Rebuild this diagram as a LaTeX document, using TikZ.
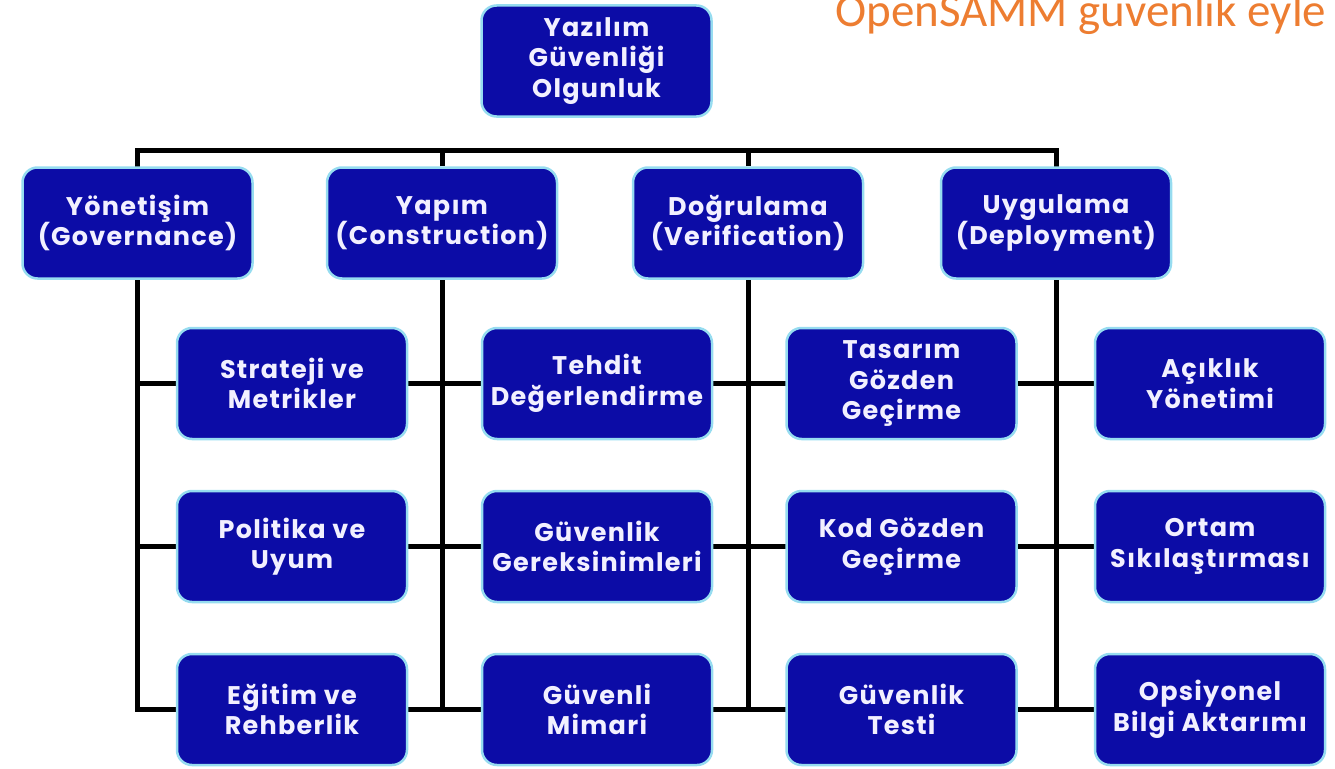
\documentclass[tikz,border=0pt]{standalone}
\usepackage{fontspec}
\setmainfont{Poppins}[LetterSpace=5]
\newfontfamily\titlefont{Carlito}
\usetikzlibrary{backgrounds}
\definecolor{boxblue}{RGB}{12,12,166}
\definecolor{glow}{RGB}{150,220,240}
\definecolor{txt}{RGB}{242,240,255}
\definecolor{titleorange}{RGB}{237,125,49}
\tikzset{
  box/.style={draw=glow, line width=2.5pt, fill=boxblue, rounded corners=15pt,
    text=txt, font=\bfseries\fontsize{25.5}{30.5}\selectfont, align=center,
    minimum width=230pt, minimum height=111pt, inner sep=0pt},
  conn/.style={draw=black, line width=5pt}
}
\begin{document}
\begin{tikzpicture}[x=1pt,y=-1pt]
\useasboundingbox (0,0) rectangle (1335,768);
\clip (0,0) rectangle (1335,768);
\node[box] (top) at (596.5,61) {Yazılım\\Güvenliği\\Olgunluk};
\node[box] (gov) at (137.5,223) {Yönetişim\\(Governance)};
\node[box] (yap) at (442,223) {Yapım\\(Construction)};
\node[box] (dog) at (748,223) {Doğrulama\\(Verification)};
\node[box] (uyg) at (1056,223) {Uygulama\\(Deployment)};
\node[box] (c11) at (292,383.5) {Strateji ve\\Metrikler};
\node[box] (c12) at (292,546.5) {Politika ve\\Uyum};
\node[box] (c13) at (292,709.5) {Eğitim ve\\Rehberlik};
\node[box] (c21) at (597,383.5) {Tehdit\\Değerlendirme};
\node[box] (c22) at (597,546.5) {Güvenlik\\Gereksinimleri};
\node[box] (c23) at (597,709.5) {Güvenli\\Mimari};
\node[box] (c31) at (901.5,383.5) {Tasarım\\Gözden\\Geçirme};
\node[box] (c32) at (901.5,546.5) {Kod Gözden\\Geçirme};
\node[box] (c33) at (901.5,709.5) {Güvenlik\\Testi};
\node[box] (c41) at (1210,383.5) {Açıklık\\Yönetimi};
\node[box] (c42) at (1210,546.5) {Ortam\\Sıkılaştırması};
\node[box] (c43) at (1210,709.5) {Opsiyonel\\Bilgi Aktarımı};
\node[anchor=base west, text=titleorange, font=\titlefont\fontsize{47}{47}\selectfont, inner sep=0pt] (title) at (835,27) {OpenSAMM guvenlik eyle};
\begin{pgfonlayer}{background}
  \coordinate (barL) at ([yshift=16pt]gov.north);
  \coordinate (barR) at ([yshift=16pt]uyg.north);
  \draw[conn, line cap=rect] (gov.north) -- (barL) -- (barR) -- (uyg.north);
  \draw[conn] (yap.north) -- (yap.north |- barL);
  \draw[conn] (dog.north) -- (dog.north |- barL);
  \foreach \c/\r in {gov/c13, yap/c23, dog/c33, uyg/c43}{
    \draw[conn] (\c.south) -- (\c.south |- \r.center);
  }
  \draw[conn, line cap=rect] (gov.center |- c11.center) -- (c41.west);
  \draw[conn, line cap=rect] (gov.center |- c12.center) -- (c42.west);
  \draw[conn, line cap=rect] (gov.center |- c13.center) -- (c43.west);
\end{pgfonlayer}
\end{tikzpicture}
\end{document}
